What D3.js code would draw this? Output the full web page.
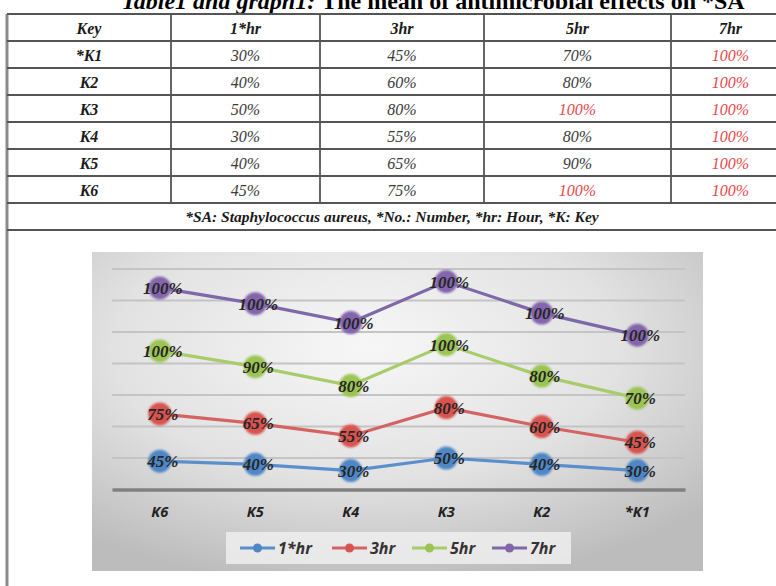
<!DOCTYPE html>
<html>
<head>
<meta charset="utf-8">
<script src="https://cdn.jsdelivr.net/npm/d3@7"></script>
<style>
  body { margin: 0; background: #fff; }
  svg { display: block; }
</style>
</head>
<body>
<svg id="chart" width="776" height="586"></svg>
<script>
// table data
const keys = ["*K1", "K2", "K3", "K4", "K5", "K6"];
const hours = ["1*hr", "3hr", "5hr", "7hr"];
const hr1 = [30, 40, 50, 30, 40, 45];
const hr3 = [45, 60, 80, 55, 65, 75];
const hr5 = [70, 80, 100, 80, 90, 100];
const hr7 = [100, 100, 100, 100, 100, 100];
const yTicks = [0, 50, 100, 150, 200, 250, 300, 350];
const colors = ["#4f86c6", "#d9534f", "#9bc453", "#8465ad"];
const lineColors = ["#5b8fcc", "#d46464", "#a9cc6a", "#7f68a8"];

const series = [hr1, hr3, hr5, hr7];
const footnote = "*SA: Staphylococcus aureus, *No.: Number, *hr: Hour, *K: Key";

const svg = d3.select("#chart");

// title (cut at the top of the picture, as in the source)
const title = svg.append("text")
  .attr("x", 433).attr("y", 9)
  .attr("text-anchor", "middle")
  .attr("font-family", "Liberation Serif")
  .attr("font-weight", "bold")
  .attr("font-size", 24);
title.append("tspan").attr("font-style", "italic").text("Table1 and graph1: ");
title.append("tspan").text("The mean of antimicrobial effects on *SA");

// ---- table ----
const colEdges = [7, 171, 320, 484, 671, 790];
const rowTop = 14, rowH = 27;
const nRows = keys.length + 1;
const tableBottom = rowTop + nRows * rowH;
const footBottom = tableBottom + 27;

const tg = svg.append("g");

// left border runs to the bottom
tg.append("line")
  .attr("x1", colEdges[0]).attr("x2", colEdges[0])
  .attr("y1", rowTop).attr("y2", 586)
  .attr("stroke", "#8a8a8a").attr("stroke-width", 3);

d3.range(nRows + 2).forEach(i => {
  const y = i <= nRows ? rowTop + i * rowH : footBottom;
  tg.append("line")
    .attr("x1", colEdges[0]).attr("x2", 776)
    .attr("y1", y).attr("y2", y)
    .attr("stroke", "#555").attr("stroke-width", 2.2);
});
colEdges.slice(1, -1).forEach(x => {
  tg.append("line")
    .attr("x1", x).attr("x2", x)
    .attr("y1", rowTop).attr("y2", tableBottom)
    .attr("stroke", "#555").attr("stroke-width", 1.8);
});

const colCenter = i => (colEdges[i] + colEdges[i + 1]) / 2;
const header = ["Key"].concat(hours);
header.forEach((h, i) => {
  tg.append("text")
    .attr("x", colCenter(i)).attr("y", rowTop + rowH / 2 + 6)
    .attr("text-anchor", "middle")
    .attr("font-family", "Liberation Serif")
    .attr("font-style", "italic").attr("font-weight", "bold")
    .attr("font-size", 16).attr("fill", "#1a1a1a")
    .text(h);
});
keys.forEach((k, r) => {
  const y = rowTop + (r + 1) * rowH + rowH / 2 + 6;
  tg.append("text")
    .attr("x", colCenter(0)).attr("y", y)
    .attr("text-anchor", "middle")
    .attr("font-family", "Liberation Serif")
    .attr("font-style", "italic").attr("font-weight", "bold")
    .attr("font-size", 16).attr("fill", "#1a1a1a")
    .text(k);
  series.forEach((s, c) => {
    tg.append("text")
      .attr("x", colCenter(c + 1)).attr("y", y)
      .attr("text-anchor", "middle")
      .attr("font-family", "Liberation Serif")
      .attr("font-style", "italic")
      .attr("font-size", 16)
      .attr("fill", s[r] === 100 && c >= 2 ? "#e8474b" : "#3a3a3a")
      .text(s[r] + "%");
  });
});
tg.append("text")
  .attr("x", 392).attr("y", tableBottom + 19)
  .attr("text-anchor", "middle")
  .attr("font-family", "Liberation Serif")
  .attr("font-style", "italic").attr("font-weight", "bold")
  .attr("font-size", 15.5).attr("fill", "#1a1a1a")
  .text(footnote);

// ---- chart ----
const defs = svg.append("defs");
const grad = defs.append("radialGradient")
  .attr("id", "bg").attr("cx", "45%").attr("cy", "30%").attr("r", "75%");
grad.append("stop").attr("offset", "0%").attr("stop-color", "#f7f7f7");
grad.append("stop").attr("offset", "55%").attr("stop-color", "#e2e2e2");
grad.append("stop").attr("offset", "100%").attr("stop-color", "#bcbcbc");
defs.append("filter").attr("id", "soft")
  .append("feGaussianBlur").attr("stdDeviation", 0.9);

svg.append("rect")
  .attr("x", 92).attr("y", 252).attr("width", 611).attr("height", 319)
  .attr("fill", "url(#bg)");

// chart order runs K6 .. *K1
const cats = keys.slice().reverse();
const rows = cats.map((k, i) => {
  const r = keys.length - 1 - i;
  const o = { key: k };
  hours.forEach((h, c) => { o[h] = series[c][r]; });
  return o;
});
const stacked = d3.stack().keys(hours)(rows);

const x = d3.scaleBand().domain(cats).range([112, 685]);
const y = d3.scaleLinear().domain([0, 350]).range([489.5, 269]);

const g = svg.append("g");
g.selectAll(".grid").data(yTicks.slice(1)).join("line")
  .attr("x1", 112).attr("x2", 685)
  .attr("y1", d => y(d)).attr("y2", d => y(d))
  .attr("stroke", "#c4c4c4").attr("stroke-width", 2);

g.append("g")
  .attr("transform", "translate(0," + y(0) + ")")
  .call(d3.axisBottom(x).tickSize(0).tickPadding(17))
  .call(a => a.select(".domain").attr("stroke", "#808080").attr("stroke-width", 3.5))
  .call(a => a.selectAll("text")
    .attr("font-family", "Open Sans").attr("font-style", "italic")
    .attr("font-weight", "bold").attr("font-size", 14.5).attr("fill", "#222"));

const cx = d => x(d.data.key) + x.bandwidth() / 2;
const line = d3.line().x(cx).y(d => y(d[1]));

stacked.forEach((s, i) => {
  g.append("path")
    .datum(s)
    .attr("d", line)
    .attr("fill", "none")
    .attr("stroke", lineColors[i])
    .attr("stroke-width", 3.2);
});
stacked.forEach((s, i) => {
  g.selectAll(".m" + i).data(s).join("circle")
    .attr("cx", cx).attr("cy", d => y(d[1]))
    .attr("r", 11.5)
    .attr("fill", colors[i])
    .attr("filter", "url(#soft)");
  g.selectAll(".l" + i).data(s).join("text")
    .attr("x", d => cx(d) + 3).attr("y", d => y(d[1]) + 6)
    .attr("text-anchor", "middle")
    .attr("font-family", "Liberation Serif")
    .attr("font-style", "italic").attr("font-weight", "bold")
    .attr("font-size", 17).attr("fill", "#262626")
    .text(d => (d[1] - d[0]) + "%");
});

// legend
const lg = svg.append("g");
lg.append("rect")
  .attr("x", 226).attr("y", 532).attr("width", 345).attr("height", 32)
  .attr("fill", "#efefef").attr("opacity", 0.85);
const legendX = [240, 332, 412, 492];
hours.forEach((h, i) => {
  const lx = legendX[i];
  lg.append("line")
    .attr("x1", lx).attr("x2", lx + 35).attr("y1", 548).attr("y2", 548)
    .attr("stroke", lineColors[i]).attr("stroke-width", 3);
  lg.append("circle")
    .attr("cx", lx + 17.5).attr("cy", 548).attr("r", 4.5)
    .attr("fill", colors[i]);
  lg.append("text")
    .attr("x", lx + 38).attr("y", 554)
    .attr("font-family", "Open Sans").attr("font-style", "italic")
    .attr("font-weight", "bold").attr("font-size", 16).attr("fill", "#333")
    .text(h);
});
</script>
</body>
</html>
